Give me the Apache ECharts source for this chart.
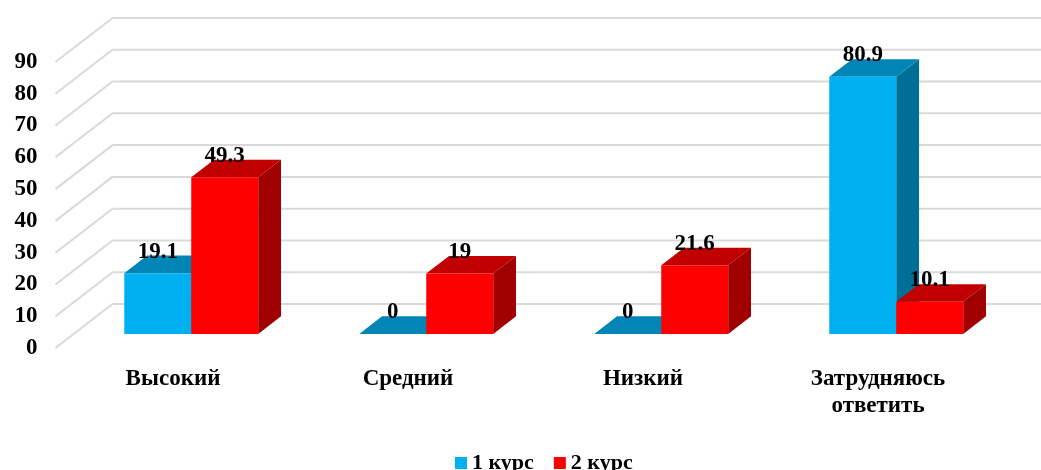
<!DOCTYPE html>
<html>
<head>
<meta charset="utf-8">
<script src="https://cdn.jsdelivr.net/npm/echarts@6/dist/echarts.min.js"></script>
<style>
html,body{margin:0;padding:0;background:#fff;}
#chart{width:1041px;height:470px;}
</style>
</head>
<body>
<div id="chart"></div>
<script>
const categories = ['Высокий', 'Средний', 'Низкий', 'Затрудняюсь ответить'];
const course1 = [19.1, 0, 0, 80.9];
const course2 = [49.3, 19, 21.6, 10.1];
const seriesNames = ['1 курс', '2 курс'];
const yTicks = [0, 10, 20, 30, 40, 50, 60, 70, 80, 90];

const FONT = '"Liberation Serif", "Times New Roman", serif';
const DX = 57, DY = -44;      // full floor depth (projection)
const F0 = 0.32, F1 = 0.72;   // bar front / back depth fractions
const BAR_FRAC = 0.285;       // bar width relative to category band

const palettes = [
  { front: '#00B0F0', top: '#0085B6', side: '#006F97' },
  { front: '#FF0000', top: '#C00000', side: '#A00000' }
];

function gridRender(params, api) {
  const v = api.value(0);
  const cs = params.coordSys;
  const y = api.coord([0, v])[1];
  const x0 = cs.x;
  return {
    type: 'group',
    children: [
      { type: 'line', shape: { x1: x0, y1: y, x2: x0 + DX, y2: y + DY },
        style: { stroke: '#D9D9D9', lineWidth: 2 } },
      { type: 'line', shape: { x1: x0 + DX, y1: y + DY, x2: cs.x + cs.width + DX + 20, y2: y + DY },
        style: { stroke: '#D9D9D9', lineWidth: 2 } }
    ]
  };
}

function barRenderer(s) {
  const pal = palettes[s];
  return function (params, api) {
    const ci = api.value(0), v = api.value(1);
    const band = api.size([1, 0])[0];
    const w = band * BAR_FRAC;
    const c = api.coord([ci, v]);
    const b = api.coord([ci, 0]);
    const xl = c[0] + (s === 0 ? -w : 0), xr = xl + w;
    const ox0 = DX * F0, oy0 = DY * F0, ox1 = DX * F1, oy1 = DY * F1;
    const children = [];
    if (b[1] - c[1] > 0.01) {
      children.push({ type: 'polygon', shape: { points: [
        [xr + ox0, c[1] + oy0], [xr + ox1, c[1] + oy1], [xr + ox1, b[1] + oy1], [xr + ox0, b[1] + oy0]] },
        style: { fill: pal.side } });
    }
    children.push({ type: 'polygon', shape: { points: [
      [xl + ox0, c[1] + oy0], [xr + ox0, c[1] + oy0], [xr + ox1, c[1] + oy1], [xl + ox1, c[1] + oy1]] },
      style: { fill: pal.top } });
    if (b[1] - c[1] > 0.01) {
      children.push({ type: 'rect', shape: { x: xl + ox0, y: c[1] + oy0, width: w, height: b[1] - c[1] },
        style: { fill: pal.front } });
    }
    children.push({ type: 'text', x: xl + ox0 + w / 2, y: c[1] + oy1 - 4,
      style: { text: String(v), fill: '#000', font: 'bold 23px ' + FONT, align: 'center', verticalAlign: 'middle' } });
    return { type: 'group', children: children };
  };
}

const chart = echarts.init(document.getElementById('chart'), null, { renderer: 'canvas' });
chart.setOption({
  animation: false,
  backgroundColor: '#fff',
  grid: { left: 55.5, right: 45.5, top: 62, bottom: 122 },
  legend: {
    left: 450, top: 447,
    icon: 'rect', itemWidth: 12, itemHeight: 12, itemGap: 20,
    textStyle: { fontFamily: FONT, fontWeight: 'bold', fontSize: 22, color: '#000' },
    data: seriesNames
  },
  xAxis: {
    type: 'category', data: categories,
    axisLine: { show: false }, axisTick: { show: false }, splitLine: { show: false },
    axisLabel: {
      interval: 0, margin: 18, lineHeight: 27,
      fontFamily: FONT, fontWeight: 'bold', fontSize: 23, color: '#000',
      formatter: function (v) { return v.replace(' ', '\n'); }
    }
  },
  yAxis: {
    type: 'value', min: 0, max: 90, interval: 10,
    axisLine: { show: false }, axisTick: { show: false }, splitLine: { show: false },
    axisLabel: { margin: 18, fontFamily: FONT, fontWeight: 'bold', fontSize: 23, color: '#000' }
  },
  series: [
    { type: 'custom', name: 'grid', silent: true, z: 1, renderItem: gridRender,
      data: yTicks.map(function (t) { return [t]; }), encode: { y: 0 } },
    { type: 'custom', name: seriesNames[0], z: 2, renderItem: barRenderer(0),
      itemStyle: { color: palettes[0].front },
      data: course1.map(function (v, i) { return [i, v]; }), encode: { x: 0, y: 1 } },
    { type: 'custom', name: seriesNames[1], z: 3, renderItem: barRenderer(1),
      itemStyle: { color: palettes[1].front },
      data: course2.map(function (v, i) { return [i, v]; }), encode: { x: 0, y: 1 } }
  ]
});
</script>
</body>
</html>
